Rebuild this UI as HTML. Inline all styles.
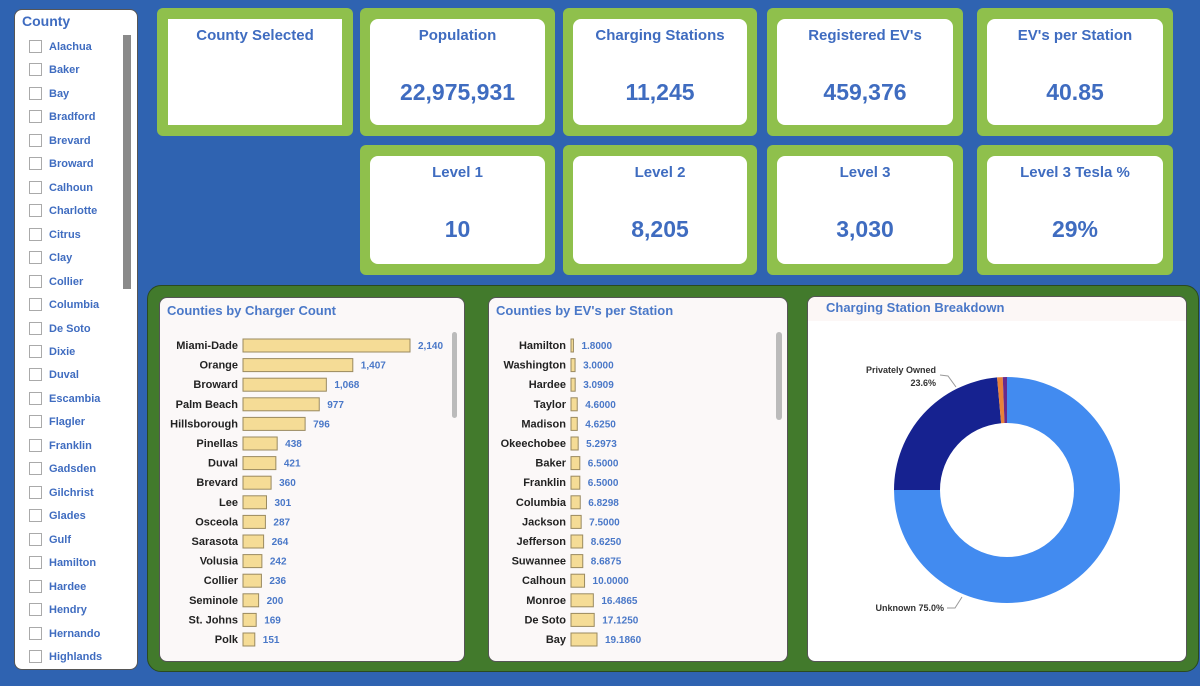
<!DOCTYPE html>
<html><head><meta charset="utf-8">
<style>
body{margin:0;width:1200px;height:686px;background:#2f63b1;position:relative;overflow:hidden;font-family:"Liberation Sans",sans-serif}
.abs{position:absolute}
.slicer{left:14px;top:9px;width:124px;height:661px;background:#fff;border-radius:8px;border:1px solid #555;box-sizing:border-box}
.card{background:#8fc04c;border-radius:6px}
.inner{position:absolute;left:10px;right:10px;top:11px;bottom:11px;background:#fff;border-radius:8px;text-align:center;color:#3f6cc0;font-weight:bold}
.inner .t{position:absolute;top:8px;left:0;right:0;font-size:15px}
.inner .v{position:absolute;top:60px;left:0;right:0;font-size:23px}
.item{position:absolute;left:14px;font-size:11px;font-weight:bold;color:#3f6cc0;height:14px;line-height:14px}
.item span{position:absolute;left:0;top:0;width:11px;height:11px;border:1px solid #aaa;background:#fff}
.item b{position:absolute;left:20px;white-space:nowrap}
.panel{background:#fbf8f8;border-radius:8px;border:1px solid #555;box-sizing:border-box}
</style></head><body>
<div class="abs slicer">
<div class="abs" style="left:7px;top:3px;font-size:14px;font-weight:bold;color:#3f6cc0">County</div>
<div class="abs" style="left:108px;top:25px;width:8px;height:254px;background:#8a8a8a"></div>
<div id="items"></div>
</div>

<div class="abs card" style="left:157px;top:8px;width:196px;height:128px">
<div class="abs" style="left:11px;top:11px;right:11px;bottom:11px;background:#fff;text-align:center;color:#3f6cc0;font-weight:bold;font-size:15px;padding-top:8px;box-sizing:border-box">County Selected</div></div>
<div id="cards"></div>

<div class="abs" style="left:147px;top:285px;width:1052px;height:387px;background:#427a2c;border-radius:14px;border:1px solid #2a4a20;box-sizing:border-box"></div>
<div class="abs panel" style="left:159px;top:297px;width:306px;height:365px">
<div class="abs" style="left:7px;top:5px;font-size:13px;font-weight:bold;color:#4a78c8">Counties by Charger Count</div>
<div class="abs" style="left:292px;top:34px;width:5px;height:86px;background:#bbb;border-radius:3px"></div>
</div>
<div class="abs panel" style="left:488px;top:297px;width:300px;height:365px">
<div class="abs" style="left:7px;top:5px;font-size:13px;font-weight:bold;color:#4a78c8">Counties by EV's per Station</div>
<div class="abs" style="left:287px;top:34px;width:6px;height:88px;background:#bbb;border-radius:3px"></div>
</div>
<div class="abs panel" style="left:807px;top:296px;width:380px;height:366px;background:#fff">
<div class="abs" style="left:0;top:0;right:0;height:24px;background:#fcf7f6;border-radius:8px 8px 0 0"></div>
<div class="abs" style="left:18px;top:3px;font-size:13px;font-weight:bold;color:#4a78c8">Charging Station Breakdown</div>
</div>
<svg class="abs" style="left:0;top:0" width="1200" height="686" id="svg"></svg>

<script>
const counties=["Alachua","Baker","Bay","Bradford","Brevard","Broward","Calhoun","Charlotte","Citrus","Clay","Collier","Columbia","De Soto","Dixie","Duval","Escambia","Flagler","Franklin","Gadsden","Gilchrist","Glades","Gulf","Hamilton","Hardee","Hendry","Hernando","Highlands"];
const kpiTitles=["Population","Charging Stations","Registered EV's","EV's per Station","Level 1","Level 2","Level 3","Level 3 Tesla %"];
const kpiValues=["22,975,931","11,245","459,376","40.85","10","8,205","3,030","29%"];
const chargerCounties=["Miami-Dade","Orange","Broward","Palm Beach","Hillsborough","Pinellas","Duval","Brevard","Lee","Osceola","Sarasota","Volusia","Collier","Seminole","St. Johns","Polk"];
const chargerValues=[2140,1407,1068,977,796,438,421,360,301,287,264,242,236,200,169,151];
const evCounties=["Hamilton","Washington","Hardee","Taylor","Madison","Okeechobee","Baker","Franklin","Columbia","Jackson","Jefferson","Suwannee","Calhoun","Monroe","De Soto","Bay"];
const evValues=[1.8,3.0,3.0909,4.6,4.625,5.2973,6.5,6.5,6.8298,7.5,8.625,8.6875,10.0,16.4865,17.125,19.186];
const evLabels=["1.8000","3.0000","3.0909","4.6000","4.6250","5.2973","6.5000","6.5000","6.8298","7.5000","8.6250","8.6875","10.0000","16.4865","17.1250","19.1860"];
const pieLabels=["Unknown","Privately Owned","Other A","Other B"];
const pieValues=[75.0,23.6,0.8,0.6];
const pieColors=["#428bf0","#162290","#e8823a","#6a2a8a"];

const items=document.getElementById('items');
counties.forEach((c,i)=>{const d=document.createElement('div');d.className='item';d.style.top=(30+i*23.46)+'px';


d.innerHTML='<span></span><b>'+c+'</b>';items.appendChild(d);});

const cards=document.getElementById('cards');
const xs=[360,563,767,977],ws=[195,194,196,196];
kpiTitles.forEach((t,i)=>{const r=Math.floor(i/4),c=i%4;const d=document.createElement('div');d.className='abs card';
d.style.left=xs[c]+'px';d.style.top=(r?145:8)+'px';d.style.width=ws[c]+'px';d.style.height=(r?130:128)+'px';


d.innerHTML='<div class="inner"><div class="t">'+t+'</div><div class="v">'+kpiValues[i]+'</div></div>';cards.appendChild(d);});

const NS='http://www.w3.org/2000/svg',svg=document.getElementById('svg');
function el(tag,a,txt){const e=document.createElementNS(NS,tag);for(const k in a)e.setAttribute(k,a[k]);if(txt!==undefined)e.textContent=txt;svg.appendChild(e);return e;}
function bars(names,vals,labels,x0,scale,name){
 const y=i=>345+i*19.6;
 names.forEach((n,i)=>{
  const t=el('text',{x:x0-5,y:y(i)+4,'text-anchor':'end','font-size':'11','font-weight':'bold',fill:'#222','font-family':'Liberation Sans'},n);
  
  const w=Math.max(1.5,vals[i]*scale);
  const r=el('rect',{x:x0,y:y(i)-6,width:w,height:13,fill:'#f5dc96',stroke:'#9a8a60','stroke-width':1});
  
  const v=el('text',{x:x0+w+8,y:y(i)+4,'font-size':'10','font-weight':'bold',fill:'#4a78c8','font-family':'Liberation Sans'},labels[i]);
  
 });
}
bars(chargerCounties,chargerValues,chargerValues.map(v=>v.toLocaleString('en-US')),243,167/2140,'charger-bar');
bars(evCounties,evValues,evLabels,571,26/19.186,'ev-bar');

const cx=1007,cy=490,R=113,r0=67,tot=pieValues.reduce((a,b)=>a+b,0);
let a=0;
pieValues.forEach((v,i)=>{const a1=a+v/tot*2*Math.PI;
 const p=(ang,rr)=>[cx+rr*Math.sin(ang),cy-rr*Math.cos(ang)];
 const [x1,y1]=p(a,R),[x2,y2]=p(a1,R),[x3,y3]=p(a1,r0),[x4,y4]=p(a,r0),lg=(a1-a)>Math.PI?1:0;
 const s=el('path',{d:`M${x1},${y1}A${R},${R} 0 ${lg} 1 ${x2},${y2}L${x3},${y3}A${r0},${r0} 0 ${lg} 0 ${x4},${y4}Z`,fill:pieColors[i]});
 
 
 a=a1;});
el('polyline',{points:'940,375 948,376 956,387',fill:'none',stroke:'#999'});
el('text',{x:936,y:373,'text-anchor':'end','font-size':'9','font-weight':'bold',fill:'#333','font-family':'Liberation Sans'},'Privately Owned');
el('text',{x:936,y:386,'text-anchor':'end','font-size':'9','font-weight':'bold',fill:'#333','font-family':'Liberation Sans'},pieValues[1].toFixed(1)+'%');
el('polyline',{points:'947,608 955,608 962,597',fill:'none',stroke:'#999'});
el('text',{x:944,y:611,'text-anchor':'end','font-size':'9','font-weight':'bold',fill:'#333','font-family':'Liberation Sans'},'Unknown '+pieValues[0].toFixed(1)+'%');
</script>
</body></html>
